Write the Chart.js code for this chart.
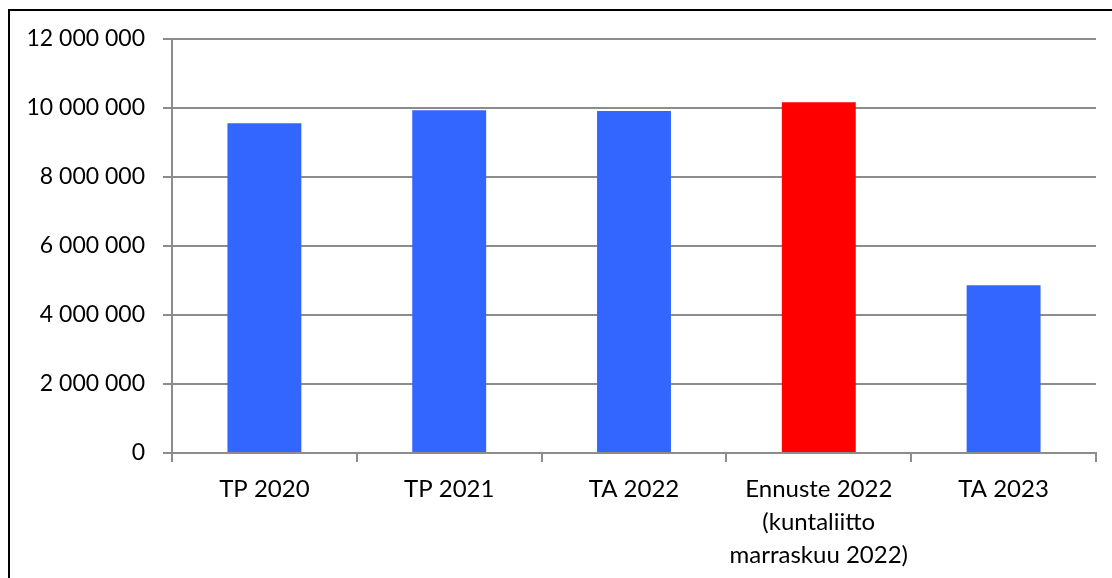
<!DOCTYPE html>
<html>
<head>
<meta charset="utf-8">
<script src="https://cdn.jsdelivr.net/npm/chart.js@4"></script>
<style>
  html, body { margin: 0; padding: 0; background: #fff; overflow: hidden; }
  #frame { position: absolute; left: 8px; top: 9px; width: 1200px; height: 700px;
           border-left: 2px solid #000; border-top: 2px solid #000; }
  #wrap { position: absolute; left: 0; top: 0; width: 1112px; height: 578px; }
</style>
</head>
<body>
<div id="frame"></div>
<div id="wrap"><canvas id="c" width="1112" height="578"></canvas></div>
<script>
const categories = [
  'TP 2020',
  'TP 2021',
  'TA 2022',
  ['Ennuste 2022', '(kuntaliitto', 'marraskuu 2022)'],
  'TA 2023'
];
const values = [9557000, 9933000, 9913000, 10165000, 4861000];
const barColors = ['#3366FF', '#3366FF', '#3366FF', '#FF0000', '#3366FF'];
const yMin = 0, yMax = 12000000, yStep = 2000000;

const fmt = v => String(v).replace(/\B(?=(\d{3})+(?!\d))/g, ' ');
const gridColor = '#8c8c8c';
const yFont = { family: 'Lato', size: 23, lineHeight: 1.2 };
const xFont = { family: 'Lato', size: 24, lineHeight: 1.375 };

new Chart(document.getElementById('c'), {
  type: 'bar',
  data: {
    labels: categories,
    datasets: [{
      data: values,
      backgroundColor: barColors,
      borderWidth: 0,
      categoryPercentage: 1.0,
      barPercentage: 0.4
    }]
  },
  options: {
    responsive: false,
    animation: false,
    devicePixelRatio: 1,
    layout: { padding: { left: 0, right: 16, top: 39, bottom: 0 } },
    plugins: { legend: { display: false }, tooltip: { enabled: false } },
    scales: {
      x: {
        offset: true,
        grid: { display: true, offset: true, drawOnChartArea: false, drawTicks: true,
                tickLength: 9, color: gridColor, lineWidth: 2 },
        border: { display: true, color: gridColor, width: 2 },
        ticks: { color: '#000', font: xFont, padding: 11, maxRotation: 0, autoSkip: false },
        afterFit: s => { s.height = 125; }
      },
      y: {
        min: yMin, max: yMax,
        grid: { color: gridColor, lineWidth: 2, drawTicks: true, tickLength: 9 },
        border: { display: true, color: gridColor, width: 2 },
        ticks: { stepSize: yStep, color: '#000', font: yFont, padding: 18,
                 callback: v => fmt(v) },
        afterFit: s => { s.width = 172; }
      }
    }
  }
});
</script>
</body>
</html>
